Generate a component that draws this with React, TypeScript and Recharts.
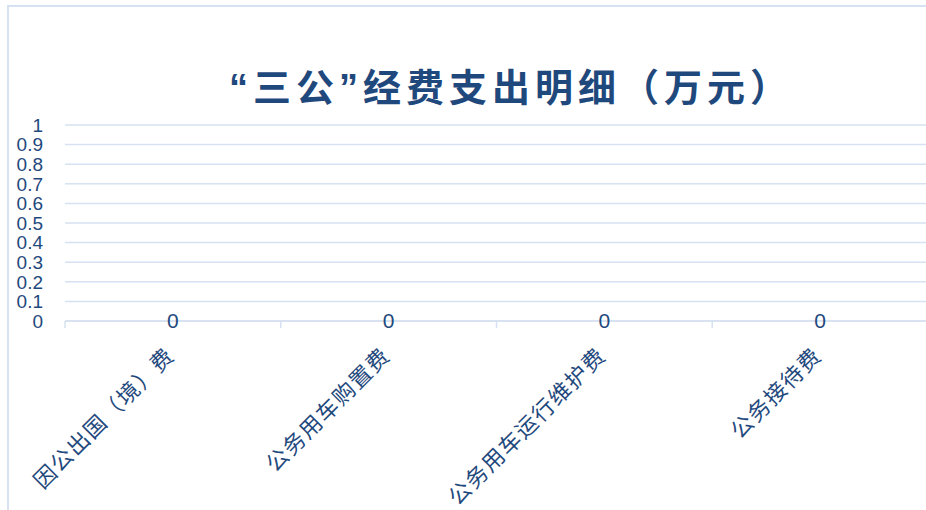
import { ComposedChart, Line, XAxis, YAxis, CartesianGrid, LabelList } from "recharts"

const categories = ["因公出国（境）费", "公务用车购置费", "公务用车运行维护费", "公务接待费"]
const amounts = [0, 0, 0, 0]
const yTicks = [0, 0.1, 0.2, 0.3, 0.4, 0.5, 0.6, 0.7, 0.8, 0.9, 1]

const NAVY = "#1F497D"
const GRID = "#D6E1F1"
const LATIN = '"Liberation Sans", "Noto Sans CJK SC", sans-serif'
const CJK = '"Noto Sans CJK SC", sans-serif'

const data = categories.map((name, i) => ({ name, value: amounts[i] }))

// label centred in the band, tick marks on the band edges (Excel style)
function CategoryTick({ x, y, payload, index, visibleTicksCount, width }: any) {
  const half = payload?.offset || (width && visibleTicksCount ? width / visibleTicksCount / 2 : 0)
  const isLast = index === visibleTicksCount - 1
  return (
    <g>
      <line x1={x - half} x2={x - half} y1={y} y2={y + 7} stroke={GRID} strokeWidth={1.5} />
      {isLast && <line x1={x + half} x2={x + half} y1={y} y2={y + 7} stroke={GRID} strokeWidth={1.5} />}
      <g transform={`translate(${x + 3},${y + 36})`}>
        <text transform="rotate(-45)" textAnchor="end" fill={NAVY} fontSize={22} letterSpacing={1.5} fontFamily={CJK}>
          {payload.value}
        </text>
      </g>
    </g>
  )
}

export default function App() {
  return (
    <div style={{ position: "absolute", left: 0, top: 0, width: 926, height: 510, overflow: "hidden", background: "#fff" }}>
      <div
        style={{
          position: "absolute",
          left: 7,
          top: 5,
          width: 1200,
          height: 1200,
          borderLeft: `2px solid ${GRID}`,
          borderTop: `2px solid ${GRID}`,
        }}
      />
      <div
        style={{
          position: "absolute",
          left: 0,
          top: 69,
          width: 1022,
          textAlign: "center",
          fontFamily: LATIN,
          fontSize: 38,
          lineHeight: "38px",
          fontWeight: 700,
          letterSpacing: 5,
          color: NAVY,
          whiteSpace: "nowrap",
        }}
      >
        “三公”经费支出明细（万元）
      </div>
      <div style={{ position: "absolute", left: 0, top: 0 }}>
        <ComposedChart width={926} height={510} data={data} margin={{ top: 125, right: -2, bottom: 0, left: 0 }}>
          <CartesianGrid vertical={false} stroke={GRID} strokeWidth={1.5} />
          <XAxis
            dataKey="name"
            scale="band"
            height={189}
            axisLine={{ stroke: GRID, strokeWidth: 1.5 }}
            tickLine={false}
            tickSize={0}
            tickMargin={0}
            interval={0}
            tick={<CategoryTick />}
          />
          <YAxis
            domain={[0, 1]}
            ticks={yTicks}
            interval={0}
            width={65}
            axisLine={false}
            tickLine={false}
            tickSize={0}
            tickMargin={22}
            tick={{ fill: NAVY, fontSize: 19, fontFamily: LATIN }}
          />
          <Line dataKey="value" stroke="none" dot={false} activeDot={false} isAnimationActive={false}>
            <LabelList dataKey="value" position="center" fill={NAVY} fontSize={21} fontFamily={LATIN} />
          </Line>
        </ComposedChart>
      </div>
    </div>
  )
}
